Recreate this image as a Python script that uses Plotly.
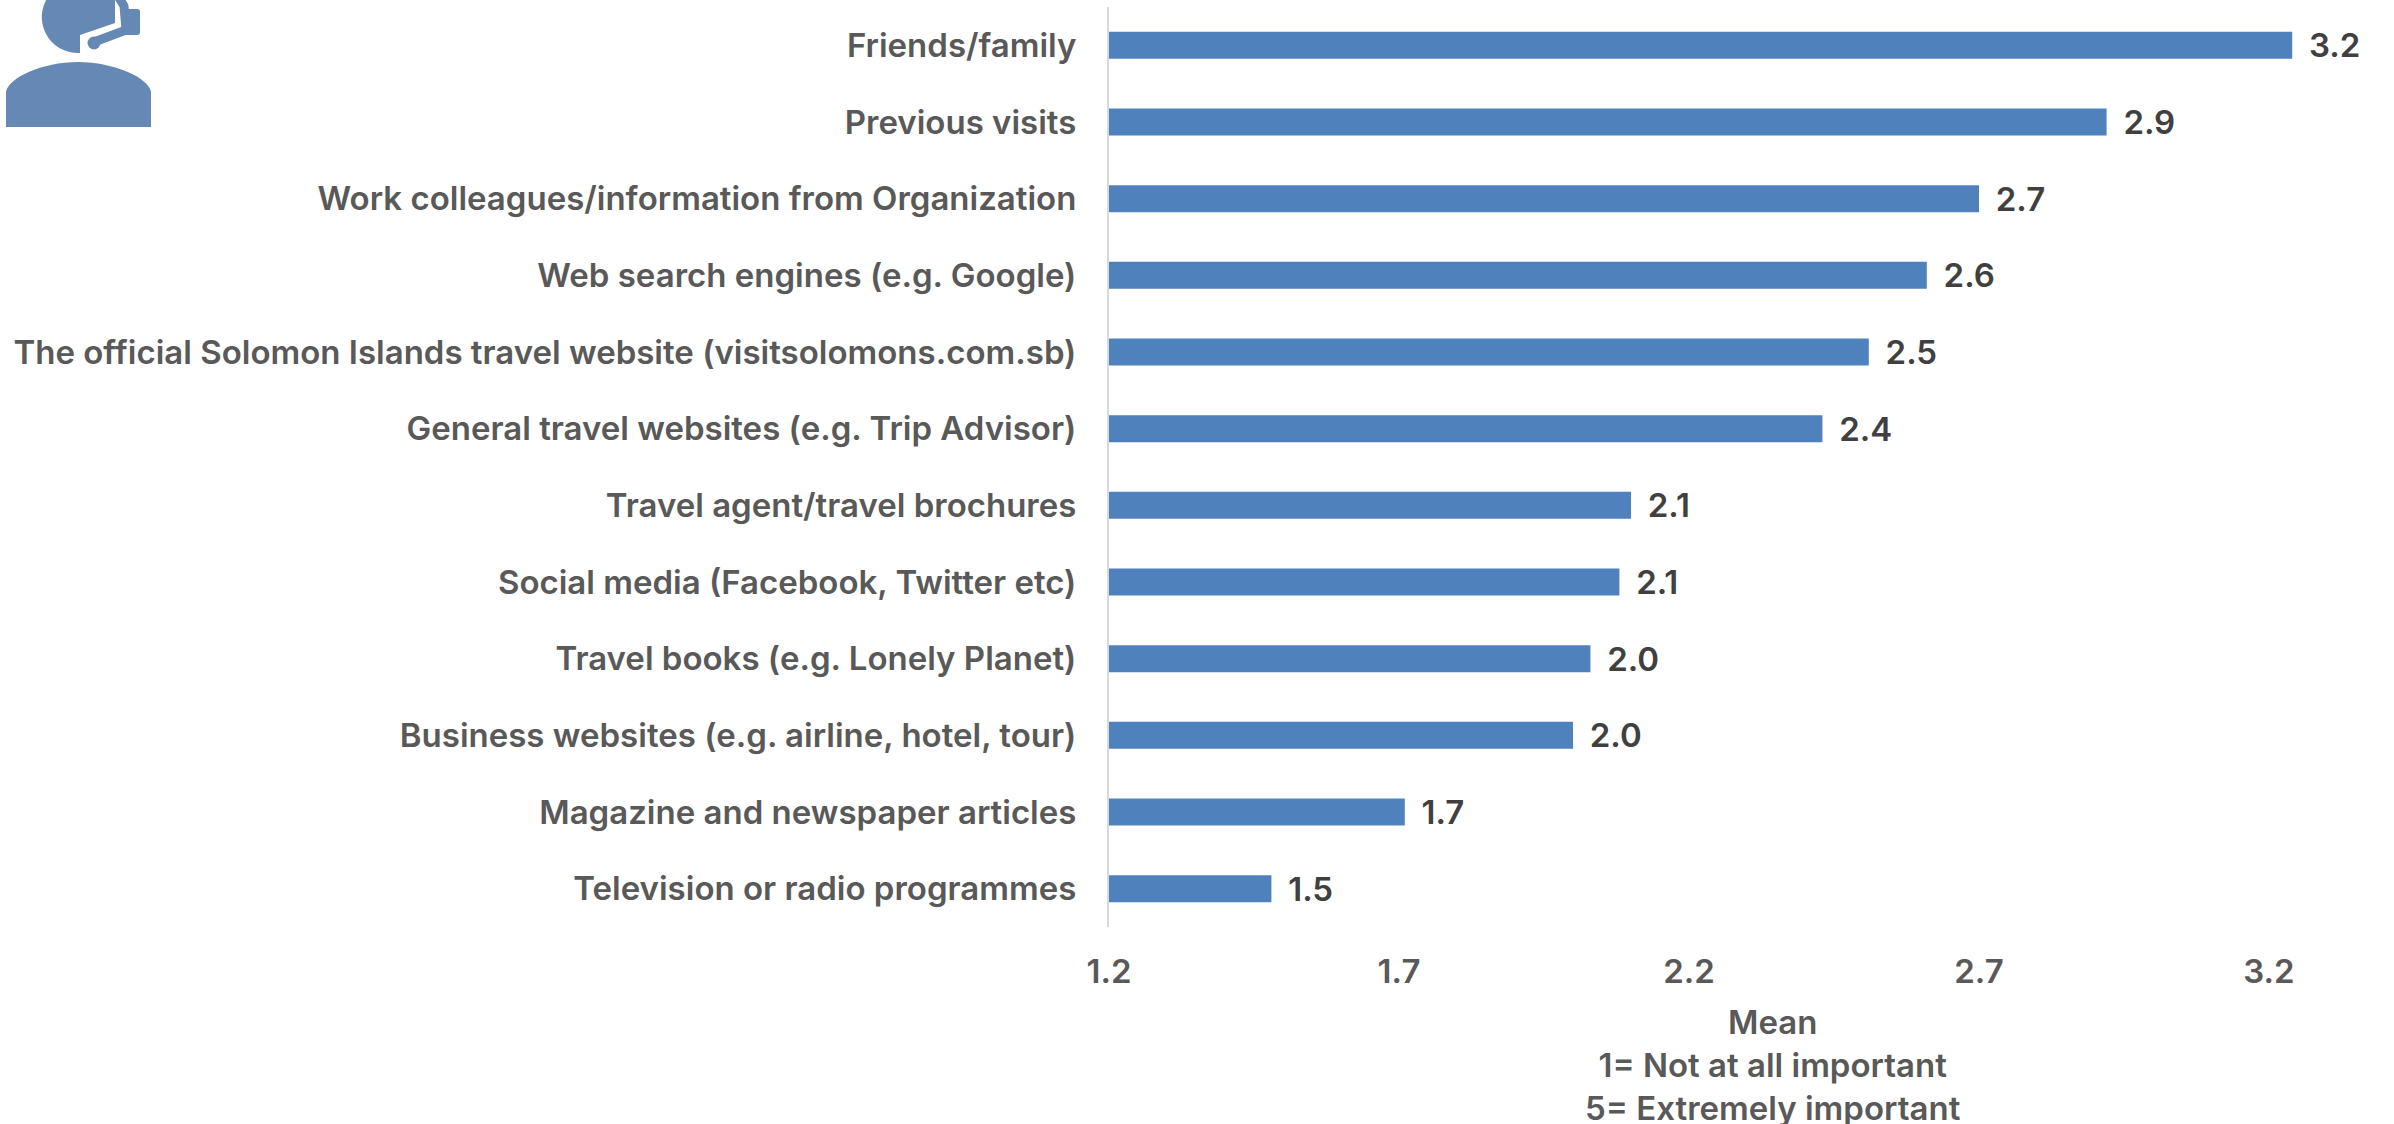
import base64
import plotly.graph_objects as go

categories = ["Friends/family", "Previous visits", "Work colleagues/information from Organization",
              "Web search engines (e.g. Google)", "The official Solomon Islands travel website (visitsolomons.com.sb)",
              "General travel websites (e.g. Trip Advisor)", "Travel agent/travel brochures",
              "Social media (Facebook, Twitter etc)", "Travel books (e.g. Lonely Planet)",
              "Business websites (e.g. airline, hotel, tour)", "Magazine and newspaper articles",
              "Television or radio programmes"]
values = [3.24, 2.92, 2.70, 2.61, 2.51, 2.43, 2.10, 2.08, 2.03, 2.00, 1.71, 1.48]
tick_vals = [1.2, 1.7, 2.2, 2.7, 3.2]
axis_title = "Mean<br>1= Not at all important<br>5= Extremely important"

W, H = 2394, 1124
L, R, T, B = 1109, 0, 7, 197
FONT = "Inter"
WEIGHT = 600
SIZE = 33
GREY = "#595959"

icon = """<svg xmlns='http://www.w3.org/2000/svg' width='170' height='135' viewBox='0 0 170 135'>
<path d='M6 127 L6 92 C8 78 42 62 78 62 C114 62 149 78 151 92 L151 127 Z' fill='#6588b4'/>
<path d='M80 53 A36 36 0 1 1 107 -4 L115 -4 L115 23 L80 35 Z' fill='#6588b4'/>
<path d='M118 -4 L124 6 L126 30 L94 42' fill='none' stroke='#6588b4' stroke-width='9' stroke-linecap='round' stroke-linejoin='round'/>
<rect x='124' y='9' width='16' height='26' rx='3' fill='#6588b4'/>
<circle cx='94' cy='43' r='6.5' fill='#6588b4'/>
</svg>"""
icon_uri = "data:image/svg+xml;base64," + base64.b64encode(icon.encode()).decode()

fig = go.Figure(go.Bar(
    x=values, y=categories, orientation="h",
    width=0.352, marker=dict(color="#4f81bd", line=dict(width=0)),
    text=[f"\u00a0\u2009{v:.1f}" for v in values], textposition="outside", cliponaxis=False, constraintext="none",
    textfont=dict(family=FONT, size=SIZE, color="#404040", weight=WEIGHT),
))
fig.update_layout(
    width=W, height=H, margin=dict(l=L, r=R, t=T, b=B, autoexpand=False),
    plot_bgcolor="white", paper_bgcolor="white", showlegend=False,
    font=dict(family=FONT, size=SIZE, color=GREY),
    images=[dict(source=icon_uri, xref="paper", yref="paper", xanchor="left", yanchor="top",
                 x=-L / (W - L - R), y=1 + T / (H - T - B), sizex=170 / (W - L - R), sizey=135 / (H - T - B),
                 sizing="contain", layer="above")],
    annotations=[dict(text=axis_title, x=2.345, xref="x", y=-0.079, yref="paper", yanchor="top",
                      showarrow=False, align="center", font=dict(family=FONT, size=33, color=GREY, weight=WEIGHT))],
)
fig.update_xaxes(range=[1.2, 1.2 + (W - L) / 580.0], tickvals=tick_vals, ticktext=[f"{t:.1f}" for t in tick_vals],
                 showgrid=False, zeroline=False, showline=False, ticks="", ticklabelstandoff=22,
                 tickfont=dict(family=FONT, size=SIZE, color=GREY, weight=WEIGHT))
fig.update_yaxes(autorange="reversed", showgrid=False, zeroline=False, showline=True, linecolor="#d9d9d9",
                 linewidth=2, ticks="", ticklabelstandoff=24, tickfont=dict(family=FONT, size=SIZE, color=GREY, weight=WEIGHT))
fig.write_html("out.html", post_script="document.body.style.margin='0';", config=dict(displayModeBar=False))
